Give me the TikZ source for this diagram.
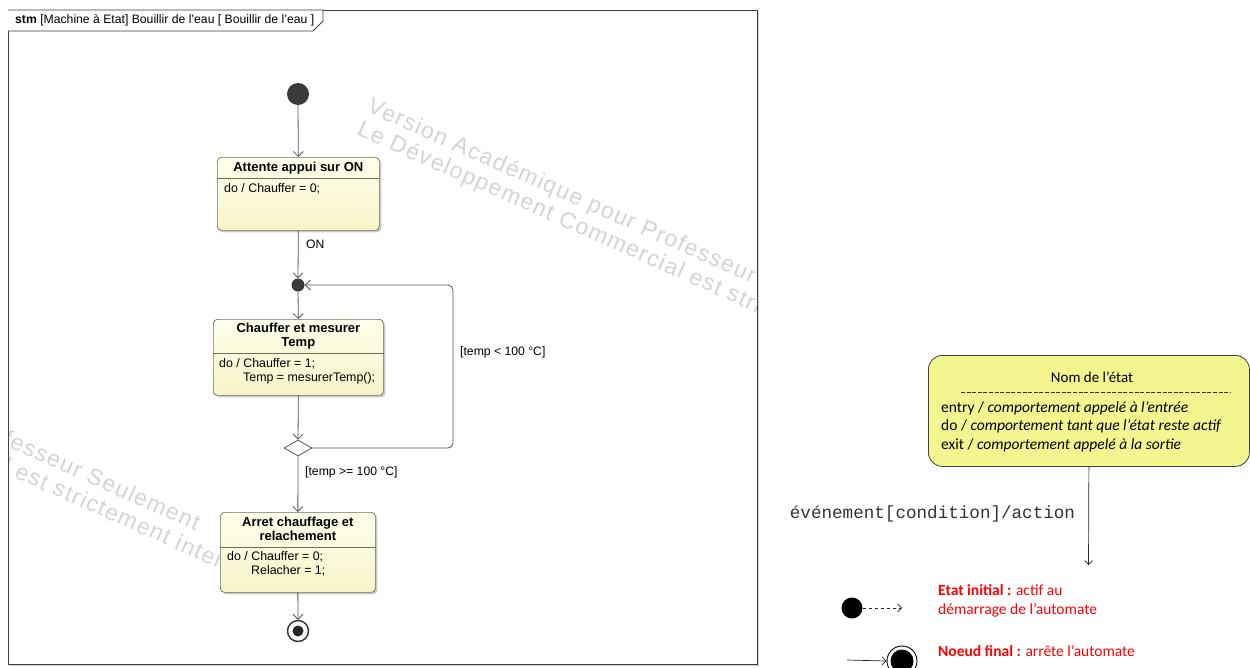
\documentclass[tikz,border=0pt]{standalone}
\usepackage{fontspec}
\setmainfont{Liberation Sans}
\newfontfamily\legendfont{Carlito}
\newfontfamily\codefont{Liberation Mono}
\newfontfamily\wmfont[LetterSpace=6]{Liberation Sans}
\usetikzlibrary{arrows.meta,shapes.geometric,shadows,calc}

\definecolor{linec}{HTML}{555555}
\definecolor{stfill}{HTML}{FFFFEC}
\definecolor{stfillb}{HTML}{F7F4C8}
\definecolor{stborder}{HTML}{6E6E60}
\definecolor{legfill}{HTML}{F3F68E}
\definecolor{wmgray}{HTML}{D4D4D4}
\definecolor{nodedark}{HTML}{3A3A3A}

\begin{document}
\begin{tikzpicture}[x=1pt,y=-1pt,
  flow/.style={draw=linec, line width=0.8pt, -{Straight Barb[length=5pt,width=10pt]}},
  legflow/.style={draw=black!85, line width=0.7pt, -{Straight Barb[length=4pt,width=8pt]}},
  state/.style={rectangle, rounded corners=4pt, draw=stborder, line width=0.7pt,
    top color=stfill, bottom color=stfillb, anchor=north west, inner sep=0pt,
    drop shadow={shadow xshift=2pt, shadow yshift=-2pt, fill=black!40, opacity=0.5}},
  stitle/.style={font=\bfseries\fontsize{13}{14.5}\selectfont, align=center, inner sep=0pt},
  sbody/.style={font=\fontsize{12.4}{14}\selectfont, anchor=west, inner sep=0pt},
  lbl/.style={font=\fontsize{12.2}{14}\selectfont, anchor=west, inner sep=0pt},
  wmtext/.style={font=\wmfont\fontsize{23}{25}\selectfont, text=wmgray, align=left,
    inner sep=0pt, anchor=north west, rotate=-24},
  legtxt/.style={font=\legendfont\fontsize{15.5}{18.5}\selectfont, inner sep=0pt, align=left}
]
\useasboundingbox (0,0) rectangle (1250,667);
\fill[white] (0,0) rectangle (1250,667);

% ---- diagram frame ----
\node[rectangle, draw=black!75, line width=1pt, fill=white, anchor=north west,
  minimum width=749pt, minimum height=654pt, inner sep=0pt,
  drop shadow={shadow xshift=1.5pt, shadow yshift=-1.5pt, fill=black!35}] (frame) at (8,10) {};

% ---- watermark ----
\begin{scope}
  \clip (9,11) rectangle (756,663);
  \node[wmtext] (wmA) at (373,96) {Version Académique pour Professeur Seulement\\Le Développement Commercial est strictement interdit};
  \node[wmtext] (wmB) at (-301,291) {Version Académique pour Professeur Seulement\\Le Développement Commercial est strictement interdit};
\end{scope}

% ---- header tab ----
\draw[black!75, line width=0.8pt, fill=white] (8,10) -- (323,10) -- (323,21) -- (313,31) -- (8,31);
\node[font=\fontsize{12.2}{14}\selectfont, anchor=west, inner sep=0pt] (hdr) at (15,20.5)
  {\textbf{stm} [Machine à Etat] Bouillir de l'eau [ Bouillir de l'eau ]};

% ---- nodes ----
\node[circle, fill=nodedark, minimum size=22pt, inner sep=0pt] (init) at (298,94) {};

\node[state, minimum width=162pt, minimum height=73pt] (s1) at (217,157) {};
\node[stitle] (s1t) at ($(s1.north)+(0,11)$) {Attente appui sur ON};
\draw[stborder, line width=0.6pt] ($(s1.north west)+(0,21)$) -- ($(s1.north east)+(0,21)$);
\node[sbody] (s1b) at ($(s1.north west)+(7,32)$) {do / Chauffer = 0;};

\node[circle, fill=nodedark, minimum size=13pt, inner sep=0pt] (jn) at (298,285) {};

\node[state, minimum width=170pt, minimum height=76pt] (s2) at (213,319) {};
\node[stitle] (s2t) at ($(s2.north)+(0,17)$) {Chauffer et mesurer\\Temp};
\draw[stborder, line width=0.6pt] ($(s2.north west)+(0,34)$) -- ($(s2.north east)+(0,34)$);
\node[sbody] (s2b1) at ($(s2.north west)+(6,45)$) {do / Chauffer = 1;};
\node[sbody] (s2b2) at ($(s2.north west)+(30,59)$) {Temp = mesurerTemp();};

\node[diamond, draw=linec, fill=white, line width=0.8pt, minimum width=28pt,
  minimum height=16pt, inner sep=0pt] (dec) at (298,448) {};

\node[state, minimum width=155pt, minimum height=80pt] (s3) at (220,512) {};
\node[stitle] (s3t) at ($(s3.north)+(0,17)$) {Arret chauffage et\\relachement};
\draw[stborder, line width=0.6pt] ($(s3.north west)+(0,35)$) -- ($(s3.north east)+(0,35)$);
\node[sbody] (s3b1) at ($(s3.north west)+(7,45)$) {do / Chauffer = 0;};
\node[sbody] (s3b2) at ($(s3.north west)+(31,59)$) {Relacher = 1;};

\node[circle, draw=black!80, line width=1.4pt, fill=white, minimum size=21pt, inner sep=0pt] (fin) at (298,631) {};
\node[circle, fill=black!85, minimum size=11pt, inner sep=0pt] (fincore) at (fin.center) {};

% ---- transitions ----
\draw[flow] (init.south) -- (s1.north);
\draw[flow] (s1.south) -- (jn.north);
\node[lbl] (lblon) at (306,244) {ON};
\draw[flow] (jn.south) -- (s2.north);
\draw[flow] (s2.south) -- (dec.north);
\coordinate (loopc) at (453,285);
\draw[flow, rounded corners=5pt] (dec.east) -| (loopc) -- (jn.east);
\node[lbl] (lblloop) at (460,352) {[temp < 100 °C]};
\draw[flow] (dec.south) -- (s3.north);
\node[lbl] (lblexit) at (305,472) {[temp >= 100 °C]};
\draw[flow] (s3.south) -- (fin.north);

% ---- legend ----
\node[rectangle, rounded corners=14pt, draw=black!75, line width=0.8pt, fill=legfill,
  anchor=north west, minimum width=321pt, minimum height=111pt, inner sep=0pt] (leg) at (928,355) {};
\node[legtxt, anchor=base, font=\legendfont\fontsize{15}{18}\selectfont] (legname) at (1092,382) {Nom de l’état};
\draw[black!80, line width=0.7pt, dash pattern=on 4pt off 1.6pt] (961,392) -- (1231,392);
\node[legtxt, anchor=base west] (legbody) at (941,449)
  {entry / \textit{comportement appelé à l’entrée}\\
   do / \textit{comportement tant que l’état reste actif}\\
   exit / \textit{comportement appelé à la sortie}};

\coordinate (evtend) at (1088.5,565);
\draw[legflow] (leg.south) -- (evtend);
\node[font=\codefont\fontsize{17.6}{20}\selectfont, text=black!80, inner sep=0pt] (evtlbl) at (932.5,514)
  {événement[condition]/action};

\node[circle, fill=black, minimum size=21pt, inner sep=0pt] (linit) at (852,608) {};
\coordinate (linitend) at (902,608);
\draw[legflow, dashed] (linit.east) -- (linitend);
\node[legtxt, anchor=base west, text=red] (linittxt) at (938,614)
  {\textbf{Etat initial :} actif au\\démarrage de l’automate};

\node[circle, draw=black, line width=0.9pt, fill=white, minimum size=30pt, inner sep=0pt] (lfin) at (902,661) {};
\node[circle, fill=black, minimum size=23pt, inner sep=0pt] (lfincore) at (lfin.center) {};
\coordinate (lfinstart) at (847,660);
\draw[legflow] (lfinstart) -- (lfin.west);
\node[legtxt, anchor=base west, text=red] (lfintxt) at (938,656)
  {\textbf{Noeud final :} arrête l’automate};
\end{tikzpicture}
\end{document}
